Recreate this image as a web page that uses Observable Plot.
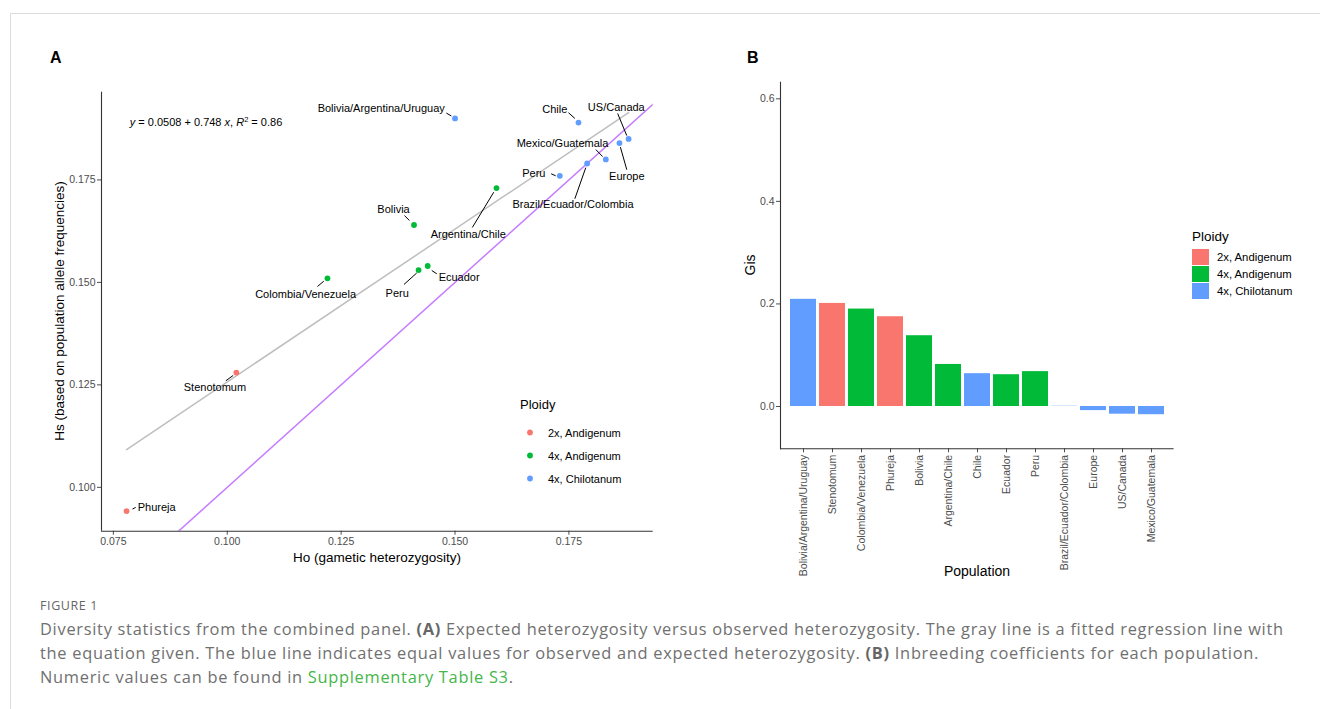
<!DOCTYPE html>
<html>
<head>
<meta charset="utf-8">
<script src="https://cdn.jsdelivr.net/npm/d3@7"></script>
<script src="https://cdn.jsdelivr.net/npm/@observablehq/plot@0.6"></script>
<style>
  html, body { margin: 0; padding: 0; background: #fff; }
  #page { position: relative; width: 1320px; height: 709px; overflow: hidden; font-family: "Liberation Sans", Arial, sans-serif; }
  #card { position: absolute; left: 10px; top: 13px; right: -2px; bottom: -2px; border-left: 1px solid #dcdcdc; border-top: 1px solid #dcdcdc; }
  .abs { position: absolute; white-space: nowrap; }
  .panel { font-weight: bold; font-size: 16px; line-height: 16px; color: #000; }
  .atitle { font-size: 13.5px; line-height: 16px; color: #000; }
  .legtitle { color: #000; }
  .legitem { color: #000; }
  #caption { position: absolute; left: 40px; top: 595px; font-family: "Open Sans", sans-serif; color: #707070; }
  #caption .fig { font-size: 12.5px; line-height: 22px; letter-spacing: 0.6px; color: #666; }
  #caption .txt { font-size: 16.4px; line-height: 24px; letter-spacing: 0.72px; white-space: nowrap; }
  #caption b { color: #666; }
  #caption .lnk { color: #45b649; }
</style>
</head>
<body>
<div id="page">
  <div id="card"></div>
  <div id="plotA" class="abs" style="left:0px;top:0px;"></div>
  <div id="plotB" class="abs" style="left:700px;top:0px;"></div>
  <div class="abs panel" style="left:50px;top:50px;">A</div>
  <div class="abs panel" style="left:747px;top:50px;">B</div>
  <div class="abs atitle" style="left:377px;top:550px;transform:translateX(-50%);">Ho (gametic heterozygosity)</div>
  <div class="abs atitle" style="left:60px;top:311px;transform:translate(-50%,-50%) rotate(-90deg);">Hs (based on population allele frequencies)</div>
  <div class="abs atitle" style="left:977px;top:563px;transform:translateX(-50%);font-size:14px;">Population</div>
  <div class="abs atitle" style="left:750px;top:265px;transform:translate(-50%,-50%) rotate(-90deg);font-size:14px;">Gis</div>
  <div id="legendA" class="abs"></div>
  <div id="legendB" class="abs"></div>
  <div id="caption">
    <div class="fig">FIGURE 1</div>
    <div class="txt">Diversity statistics from the combined panel. <b>(A)</b> Expected heterozygosity versus observed heterozygosity. The gray line is a fitted regression line with</div>
    <div class="txt">the equation given. The blue line indicates equal values for observed and expected heterozygosity. <b>(B)</b> Inbreeding coefficients for each population.</div>
    <div class="txt">Numeric values can be found in <span class="lnk">Supplementary Table S3</span>.</div>
  </div>
</div>
<script>
// ---------- shared ----------
const ploidyDomain = ["2x, Andigenum", "4x, Andigenum", "4x, Chilotanum"];
const ploidyColors = ["#F8766D", "#00BA38", "#619CFF"];

// ---------- Panel A data ----------
const namesA = ["Phureja", "Stenotomum", "Colombia/Venezuela", "Bolivia", "Argentina/Chile", "Peru", "Ecuador",
  "Bolivia/Argentina/Uruguay", "Chile", "US/Canada", "Europe", "Mexico/Guatemala", "Brazil/Ecuador/Colombia", "Peru"];
const ploidyA = ["2x, Andigenum", "2x, Andigenum", "4x, Andigenum", "4x, Andigenum", "4x, Andigenum", "4x, Andigenum", "4x, Andigenum",
  "4x, Chilotanum", "4x, Chilotanum", "4x, Chilotanum", "4x, Chilotanum", "4x, Chilotanum", "4x, Chilotanum", "4x, Chilotanum"];
const hoA = [0.0779, 0.1020, 0.1220, 0.1410, 0.1591, 0.1420, 0.1440, 0.1500, 0.1771, 0.1881, 0.1861, 0.1831, 0.1790, 0.1730];
const hsA = [0.0942, 0.1280, 0.1510, 0.1640, 0.1730, 0.1530, 0.1540, 0.1900, 0.1890, 0.1850, 0.1840, 0.1800, 0.1790, 0.1760];

// label placement (repelled label positions, data units)
const labelXA = [0.0845, 0.0973, 0.1172, 0.1365, 0.1529, 0.1373, 0.1509, 0.1338, 0.1719, 0.1854, 0.1877, 0.1736, 0.1759, 0.1673];
const labelYA = [0.0950, 0.1243, 0.1471, 0.1678, 0.1618, 0.1474, 0.1512, 0.1925, 0.1921, 0.1927, 0.1758, 0.1839, 0.1689, 0.1766];
// leader segments: end near point / end near label
const segPX = [0.0792, 0.1013, 0.1212, 0.1400, 0.1585, 0.1416, 0.1449, 0.1492, 0.1763, 0.1877, 0.1863, 0.1824, 0.1787, 0.1721];
const segPY = [0.0947, 0.1273, 0.1503, 0.1651, 0.1720, 0.1523, 0.1529, 0.1906, 0.1900, 0.1858, 0.1830, 0.1807, 0.1780, 0.1760];
const segLX = [0.0799, 0.0997, 0.1198, 0.1389, 0.1538, 0.1388, 0.1460, 0.1481, 0.1749, 0.1857, 0.1877, 0.1809, 0.1763, 0.1711];
const segLY = [0.0951, 0.1260, 0.1490, 0.1663, 0.1634, 0.1495, 0.1521, 0.1913, 0.1914, 0.1912, 0.1775, 0.1824, 0.1704, 0.1765];

const xDomainA = [0.0724, 0.1935];
const yDomainA = [0.0893, 0.1964];
const xTicksA = [0.075, 0.100, 0.125, 0.150, 0.175];
const yTicksA = [0.100, 0.125, 0.150, 0.175];
const equationText = "y = 0.0508 + 0.748 x, R2 = 0.86";
const equationPos = [0.0786, 0.1890];

// ---------- Panel B data ----------
const populationsB = ["Bolivia/Argentina/Uruguay", "Stenotomum", "Colombia/Venezuela", "Phureja", "Bolivia", "Argentina/Chile",
  "Chile", "Ecuador", "Peru", "Brazil/Ecuador/Colombia", "Europe", "US/Canada", "Mexico/Guatemala"];
const ploidyB = ["4x, Chilotanum", "2x, Andigenum", "4x, Andigenum", "2x, Andigenum", "4x, Andigenum", "4x, Andigenum",
  "4x, Chilotanum", "4x, Andigenum", "4x, Andigenum", "4x, Chilotanum", "4x, Chilotanum", "4x, Chilotanum", "4x, Chilotanum"];
const gisB = [0.209, 0.201, 0.190, 0.175, 0.138, 0.082, 0.064, 0.062, 0.068, 0.0005, -0.008, -0.015, -0.016];
const yDomainB = [-0.0825, 0.6324];
const yTicksB = [0.0, 0.2, 0.4, 0.6];

// ---------- build tables ----------
const dataA = namesA.map((name, i) => ({
  name, ploidy: ploidyA[i], ho: hoA[i], hs: hsA[i],
  lx: labelXA[i], ly: labelYA[i], px: segPX[i], py: segPY[i], qx: segLX[i], qy: segLY[i]
}));
const dataB = populationsB.map((pop, i) => ({ pop, ploidy: ploidyB[i], gis: gisB[i] }));

const fontFam = "'Liberation Sans', Arial, sans-serif";

// ---------- Panel A ----------
const plotA = Plot.plot({
  width: 670, height: 580,
  marginLeft: 101, marginRight: 17.3, marginTop: 91.7, marginBottom: 49.3,
  style: { fontFamily: fontFam, fontSize: "10.5px", color: "#4d4d4d", background: "transparent", overflow: "visible" },
  x: { domain: xDomainA, ticks: xTicksA, tickFormat: d3.format(".3f"), tickSize: 4, tickPadding: 2, label: null },
  y: { domain: yDomainA, ticks: yTicksA, tickFormat: d3.format(".3f"), tickSize: 4, tickPadding: 2, label: null },
  color: { domain: ploidyDomain, range: ploidyColors },
  marks: [
    Plot.line(xDomainA, { x: d => d, y: d => d, stroke: "#c77cff", strokeWidth: 1.5, clip: true }),
    Plot.linearRegressionY(dataA, { x: "ho", y: "hs", ci: 0, stroke: "#bebebe", strokeWidth: 1.5 }),
    Plot.link(dataA, { x1: "px", y1: "py", x2: "qx", y2: "qy", stroke: "#000", strokeWidth: 1 }),
    Plot.dot(dataA, { x: "ho", y: "hs", fill: "ploidy", r: 2.9 }),
    Plot.text(dataA, { x: "lx", y: "ly", text: "name", fontSize: 11, fill: "#000" }),
    Plot.text([equationText], { x: () => equationPos[0], y: () => equationPos[1], text: d => d, textAnchor: "start", fontSize: 11, fill: "#000" }),
    Plot.ruleX([xDomainA[0]], { stroke: "#333", strokeWidth: 1.1 }),
    Plot.ruleY([yDomainA[0]], { stroke: "#333", strokeWidth: 1.1 })
  ]
});
document.getElementById("plotA").appendChild(plotA);

// italicise the equation like ggplot's plotmath
for (const t of plotA.querySelectorAll("text")) {
  if (t.textContent === equationText) {
    const parts = [["y", "i"], [" = 0.0508 + 0.748 ", ""], ["x", "i"], [", ", ""], ["R", "i"], ["2", "s"], [" = 0.86", ""]];
    t.textContent = "";
    for (const [s, k] of parts) {
      const ts = document.createElementNS("http://www.w3.org/2000/svg", "tspan");
      ts.textContent = s;
      if (k === "i") ts.setAttribute("font-style", "italic");
      if (k === "s") { ts.setAttribute("font-size", "7.5"); ts.setAttribute("dy", "-4"); }
      if (s === " = 0.86") ts.setAttribute("dy", "4");
      t.appendChild(ts);
    }
  }
}

// ---------- Panel B ----------
const plotB = Plot.plot({
  width: 620, height: 600,
  marginLeft: 80, marginRight: 146.4, marginTop: 81.7, marginBottom: 151.7,
  style: { fontFamily: fontFam, fontSize: "10.5px", color: "#4d4d4d", background: "transparent", overflow: "visible" },
  x: { domain: populationsB, paddingInner: 0.1, paddingOuter: 0.15, tickRotate: -90, tickSize: 4, tickPadding: 2, label: null },
  y: { domain: yDomainB, ticks: yTicksB, tickFormat: d3.format(".1f"), tickSize: 4, tickPadding: 2, label: null },
  color: { domain: ploidyDomain, range: ploidyColors },
  marks: [
    Plot.barY(dataB, { x: "pop", y: "gis", fill: "ploidy" }),
    Plot.ruleY([yDomainB[0]], { stroke: "#333", strokeWidth: 1.1 }),
    Plot.frame({ anchor: "left", stroke: "#333", strokeWidth: 1.1 })
  ]
});
document.getElementById("plotB").appendChild(plotB);

// ---------- Legends ----------
const legA = document.getElementById("legendA");
legA.style.left = "520px"; legA.style.top = "396px";
legA.innerHTML = `<div class="legtitle" style="font-size:13px;line-height:18px;margin-bottom:7px;">Ploidy</div>` +
  ploidyDomain.map((p, i) => `<div class="legitem" style="display:flex;align-items:center;height:23px;font-size:11px;">
     <svg width="20" height="23" style="margin-left:0px"><circle cx="10" cy="11.5" r="2.9" fill="${ploidyColors[i]}"/></svg>
     <span style="margin-left:8px">${p}</span></div>`).join("");

const legB = document.getElementById("legendB");
legB.style.left = "1192px"; legB.style.top = "228px";
legB.innerHTML = `<div class="legtitle" style="font-size:13.5px;line-height:17px;margin-bottom:3px;">Ploidy</div>` +
  ploidyDomain.map((p, i) => `<div class="legitem" style="display:flex;align-items:center;height:17px;font-size:11.3px;">
     <div style="width:17px;height:16px;background:${ploidyColors[i]};"></div>
     <span style="margin-left:8px">${p}</span></div>`).join("");
</script>
</body>
</html>
